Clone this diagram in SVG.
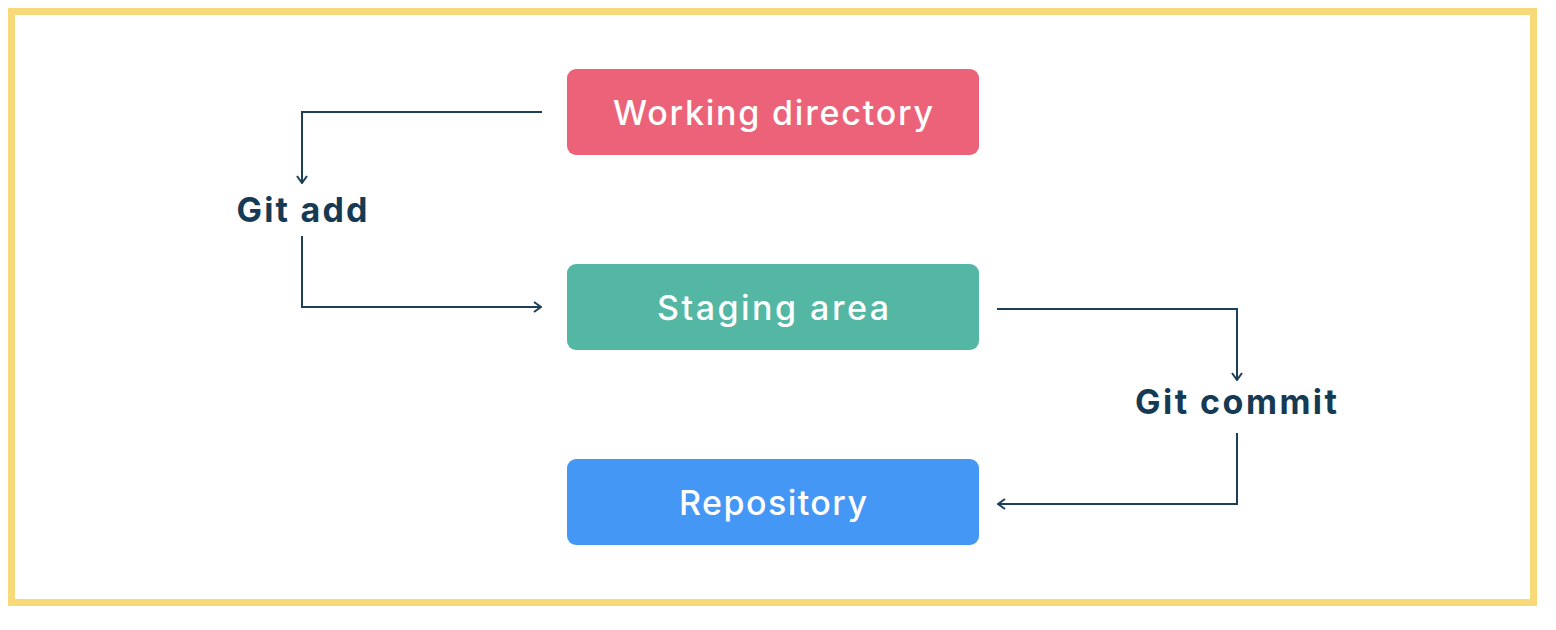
<svg xmlns="http://www.w3.org/2000/svg" width="1556" height="630" viewBox="0 0 1556 630">
<style>
.node text{font-family:"Inter","Open Sans","Liberation Sans",sans-serif;font-size:34px;font-weight:500;fill:#ffffff;text-anchor:middle;dominant-baseline:central}
.lbl{font-family:"Inter","Open Sans","Liberation Sans",sans-serif;font-size:34px;font-weight:700;fill:#163A53;text-anchor:middle;dominant-baseline:central}
.conn path{fill:none;stroke:#1E3F58;stroke-width:2}
</style>
<defs>
<marker id="arr" viewBox="0 0 12 12" refX="11" refY="6" markerWidth="12" markerHeight="12" markerUnits="userSpaceOnUse" orient="auto">
<path d="M4 1 L11 6 L4 11" fill="none" stroke="#1E3F58" stroke-width="2"/>
</marker>
</defs>
<rect x="0" y="0" width="1556" height="630" fill="#ffffff"/>
<rect id="frame" x="11.5" y="11.5" width="1522" height="591" fill="#ffffff" stroke="#F8D97A" stroke-width="7"/>
<g id="working-directory" class="node">
<rect x="567" y="69" width="412" height="86" rx="9" fill="#EC6379"/>
<text x="773" y="112" textLength="320" lengthAdjust="spacing">Working directory</text>
</g>
<g id="staging-area" class="node">
<rect x="567" y="264" width="412" height="86" rx="9" fill="#53B7A4"/>
<text x="773" y="307" textLength="232" lengthAdjust="spacing">Staging area</text>
</g>
<g id="repository" class="node">
<rect x="567" y="459" width="412" height="86" rx="9" fill="#4597F6"/>
<text x="773" y="502" textLength="188" lengthAdjust="spacing">Repository</text>
</g>
<g id="git-add">
<text class="lbl" x="302" y="209" textLength="131" lengthAdjust="spacing">Git add</text>
</g>
<g id="git-commit">
<text class="lbl" x="1236" y="401" textLength="202" lengthAdjust="spacing">Git commit</text>
</g>
<g id="connectors" class="conn">
<path d="M542 112 H302 V183" marker-end="url(#arr)"/>
<path d="M302 236 V307 H541" marker-end="url(#arr)"/>
<path d="M997 309 H1237 V380" marker-end="url(#arr)"/>
<path d="M1237 433 V504 H998" marker-end="url(#arr)"/>
</g>
</svg>
